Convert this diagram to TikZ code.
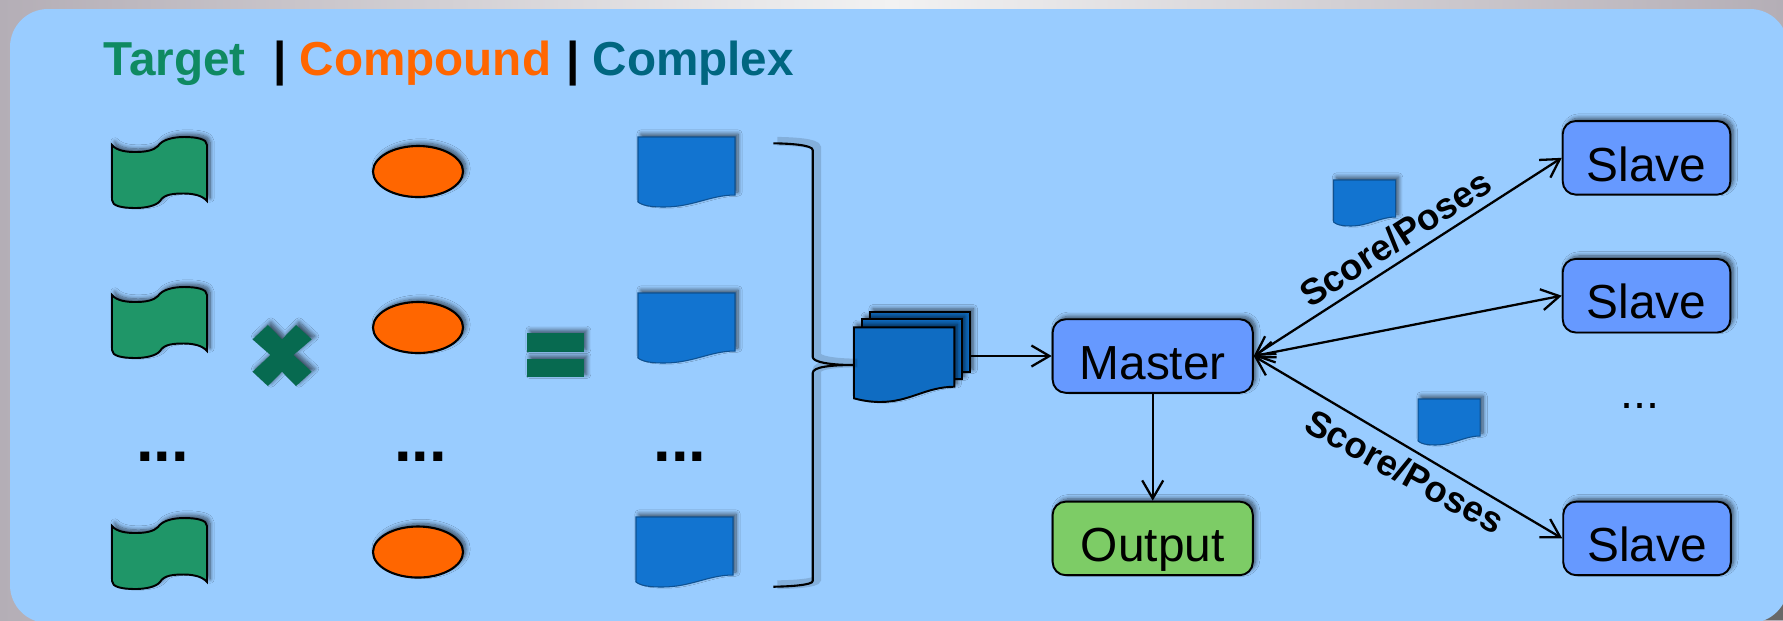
\documentclass[tikz,border=0pt]{standalone}
\usepackage{fontspec}
\setmainfont{Liberation Sans}
\usepackage{xcolor}
\usepackage{tikz}
\usetikzlibrary{positioning,shapes.geometric,arrows.meta,shadows.blur}

\definecolor{panelblue}{HTML}{99CCFF}
\definecolor{edgegrey}{HTML}{B4AEB6}
\definecolor{midgrey}{HTML}{F2F2F2}
\definecolor{cornergrey}{HTML}{686868}
\definecolor{flaggreen}{HTML}{1F9668}
\definecolor{opgreen}{HTML}{076A50}
\definecolor{targetgreen}{HTML}{0F8A62}
\definecolor{orangefill}{HTML}{FF6600}
\definecolor{complexteal}{HTML}{006680}
\definecolor{docblue}{HTML}{1274D0}
\definecolor{stackblue}{HTML}{0F6CC2}
\definecolor{boxblue}{HTML}{6699FF}
\definecolor{boxgreen}{HTML}{7DCC66}

\tikzset{
  softshadow/.style={blur shadow={shadow xshift=.3mm,shadow yshift=.3mm,shadow blur radius=.42mm,shadow opacity=60,shadow blur steps=8}},
  flagbody/.style={draw=black,line width=.55pt,fill=flaggreen,softshadow},
  docbody/.style={draw=docblue!70!black,line width=.3pt,fill=docblue,softshadow},
  stackbody/.style={draw=black,line width=.55pt,fill=stackblue,softshadow},
  compoundnode/.style={ellipse,draw=black,line width=.6pt,fill=orangefill,minimum width=.9cm,minimum height=.51cm,inner sep=0,softshadow},
  opshape/.style={fill=opgreen,softshadow},
  flowbox/.style={draw=black,line width=.55pt,rounded corners=1.3mm,inner sep=0,text height=.6cm,text depth=.135cm,softshadow,font=\fontsize{13.6pt}{16pt}\selectfont},
  masterbox/.style={flowbox,fill=boxblue,minimum width=2cm},
  outputbox/.style={flowbox,fill=boxgreen,minimum width=2cm},
  slavebox/.style={flowbox,fill=boxblue,minimum width=1.675cm},
  titletext/.style={anchor=base west,inner sep=0,font=\fontsize{13.55pt}{16pt}\selectfont\bfseries},
  dotstext/.style={anchor=base,inner sep=0,font=\fontsize{18pt}{20pt}\selectfont\bfseries},
  scoretext/.style={sloped,inner sep=2.2pt,font=\fontsize{10.4pt}{12pt}\selectfont\bfseries},
  oneway/.style={line width=.65pt,-{Straight Barb[length=1.8mm,width=2.1mm]}},
  twoway/.style={line width=.65pt,{Straight Barb[length=1.8mm,width=2.1mm]}-{Straight Barb[length=1.8mm,width=2.1mm]}},
  flagpic/.pic={
    \draw[flagbody] (0,8) .. controls (5,14) and (15,15) .. (23.5,15) .. controls (35,15) and (42,13) .. (46,9)
      .. controls (50,3) and (60,0) .. (72,0) .. controls (85,0) and (95,2) .. (95,8) -- (95,64)
      .. controls (90,58) and (80,56.5) .. (72,56.5) .. controls (62,56.5) and (52,57) .. (48,64)
      .. controls (44,69) and (33,71) .. (23.5,71) .. controls (10,71) and (0,69) .. (0,63) -- cycle;
  },
  docpic/.pic={
    \draw[docbody] (0,0) -- (97,0) -- (97,58) .. controls (72,58) and (55,70) .. (26,70)
      .. controls (15,70) and (5,69) .. (0,65) -- cycle;
  },
  smalldocpic/.pic={
    \draw[docbody] (0,0) -- (62,0) -- (62,37) .. controls (46,37) and (35,46) .. (17,46)
      .. controls (10,46) and (3,45) .. (0,42) -- cycle;
  }
}

\begin{document}
\begin{tikzpicture}[x=0.01cm,y=-0.01cm]
\useasboundingbox (0,0) rectangle (1783,620);
% backdrop and panel
\shade[left color=edgegrey,right color=edgegrey,middle color=midgrey] (0,0) rectangle (1783,620);
\fill[cornergrey] (1740,580) rectangle (1783,620);
\fill[panelblue,rounded corners=3.8mm] (10,9) rectangle (1788,623);

% title
\node[titletext,text=targetgreen] (target) at (103,75) {Target};
\node[titletext] (bara) at (272.5,75) {|};
\node[titletext,text=orangefill] (compound) at (299,75) {Compound};
\node[titletext] (barb) at (565.5,75) {|};
\node[titletext,text=complexteal] (complex) at (592,75) {Complex};

% first three columns
\pic at (112,137) {flagpic};
\pic at (112,287) {flagpic};
\pic at (112,518) {flagpic};
\node[compoundnode] (cpa) at (418,171.5) {};
\node[compoundnode] (cpb) at (418,327.5) {};
\node[compoundnode] (cpc) at (418,552) {};
\pic at (638,137) {docpic};
\pic at (638,293) {docpic};
\pic at (636,517) {docpic};
\node[dotstext] (dotsa) at (162.5,461) {...};
\node[dotstext] (dotsb) at (420.5,461) {...};
\node[dotstext] (dotsc) at (680,461) {...};

% times and equals
\fill[opshape] (267.9,325) -- (282,339.3) -- (296,325) -- (311.7,339.3) -- (293.4,355) -- (311.7,371.7) -- (296,386) -- (282,371.7) -- (267.9,386) -- (252.6,371.7) -- (270.4,355) -- (252.6,339.3) -- cycle;
\fill[opshape] (527,333.3) rectangle (583.7,352.3);
\fill[opshape] (527,359) rectangle (583.7,377.3);

% stack of complexes
\draw[stackbody] (870,311.7) rectangle (970.3,372.3);
\draw[stackbody] (862.3,319.3) rectangle (961.7,379.3);
\draw[stackbody] (854,327.3) -- (954.3,327.3) -- (954.3,386.7) .. controls (925,387) and (910,402) .. (880,402) .. controls (870,402) and (860,400) .. (854,398.3) -- cycle;
\node[inner sep=0,minimum width=1.16cm,minimum height=.8cm] (stack) at (912,365) {};

% brace
\draw[line width=.6pt,line join=round,preaction={draw,opacity=.14,line width=2.5pt,transform canvas={shift={(.4mm,.2mm)}}}]
  (773.3,143.3) .. controls (790,143.5) and (812.7,145) .. (812.7,150) -- (812.7,357) .. controls (812.7,362) and (830,365) .. (stack.west)
  .. controls (830,365) and (812.7,367) .. (812.7,373) -- (812.7,581) .. controls (812.7,585) and (790,586.5) .. (773.3,586.7);

% boxes
\node[masterbox] (master) at (1152.7,356) {Master};
\node[outputbox] (output) at (1152.7,538.4) {Output};
\node[slavebox] (slavea) at (1646.5,157.8) {Slave};
\node[slavebox] (slaveb) at (1646.5,295.7) {Slave};
\node[slavebox] (slavec) at (1647,538.4) {Slave};
\node[anchor=base,inner sep=0,font=\fontsize{13.3pt}{16pt}\selectfont] (dotsd) at (1640,408) {...};

% small documents
\pic at (1333.5,180) {smalldocpic};
\pic at (1418,399) {smalldocpic};

% connectors
\draw[oneway] (stack.east |- master.west) -- (master.west);
\draw[oneway] (master.south) -- (output.north);
\draw[twoway] (master.east) -- node[scoretext,above,pos=.5] (scorea) {Score/Poses} (slavea.west);
\draw[twoway] (master.east) -- (slaveb.west);
\draw[twoway] (master.east) -- node[scoretext,below,pos=.525,rotate=2] (scoreb) {Score/Poses} (slavec.west);
\end{tikzpicture}
\end{document}
